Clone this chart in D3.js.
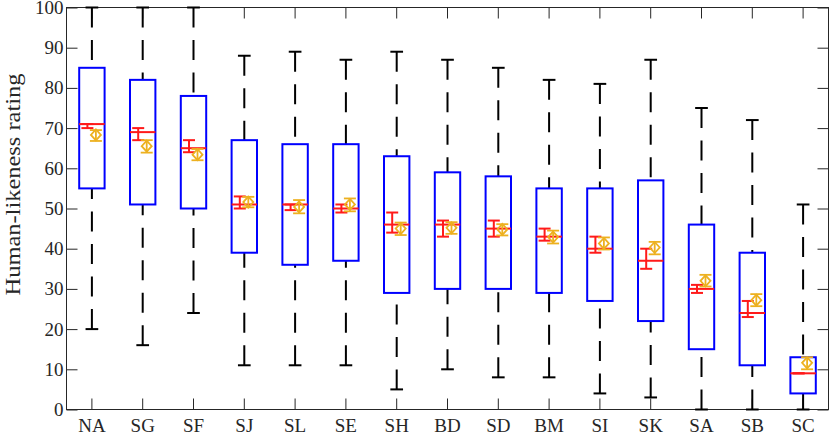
<!DOCTYPE html>
<html>
<head>
<meta charset="utf-8">
<script src="https://cdn.jsdelivr.net/npm/d3@7"></script>
<style>
  html, body { margin: 0; padding: 0; background: #fff; }
  svg { display: block; }
</style>
</head>
<body>
<svg id="chart" width="830" height="435"></svg>
<script>
// ---- data ----
const categories   = ["NA","SG","SF","SJ","SL","SE","SH","BD","SD","BM","SI","SK","SA","SB","SC"];
const whiskerHigh  = [100,100,100,88,89,87,89,87,85,82,81,87,75,72,51];
const q3           = [85,82,78,67,66,66,63,59,58,55,55,57,46,39,13];
const median       = [71,69,65,51,51,50,46,46,45,43,40,37,30,24,9];
const q1           = [55,51,50,39,36,37,29,30,30,29,27,22,15,11,4];
const whiskerLow   = [20,16,24,11,11,11,5,10,8,8,4,3,0,0,0];
const medianCILow  = [70,67,64,50,49.6,49,44,43,43,42,39,35,29,23,9];
const medianCIHigh = [71,70,67,53,51,51,49,47,47,45,43,40,31,27,9];
const meanValue    = [68.3,65.5,63.4,51.6,50.4,51,45,45.2,44.8,42.9,41.3,40.3,32,27.2,11.6];
const meanLow      = [66.8,63.9,62,50.3,48.8,49.3,43.4,43.7,43.3,41.3,39.8,38.6,30.6,25.7,10];
const meanHigh     = [69.5,67,64.8,52.9,52.1,52.5,46.5,46.6,46.1,44.5,42.8,41.7,33.5,28.7,13];
const yTicks       = [0,10,20,30,40,50,60,70,80,90,100];
const yLabel       = "Human-likeness rating";

// ---- layout ----
const margin = {left: 66.5, top: 7.5, right: 1.5, bottom: 25.5};
const W = 830 - margin.left - margin.right;
const H = 435 - margin.top - margin.bottom;
const axisColor = "#262626";
const fontFam = "Liberation Serif, DejaVu Serif, serif";
const blue = "#0000ff", red = "#ff1a1a", orange = "#edb120";

const svg = d3.select("#chart");
const g = svg.append("g").attr("transform", `translate(${margin.left},${margin.top})`);

const x = d3.scaleBand().domain(categories).range([0, W]).paddingInner(0).paddingOuter(0);
const y = d3.scaleLinear().domain([0, 100]).range([H, 0]);
const bw = x.bandwidth();
const cx = c => x(c) + bw / 2;
const boxW = bw * 0.5;
const capW = bw * 0.25;
const barCapW = 12;
const ciOff = -4.5, meanOff = 4;

const rows = categories.map((c, i) => ({
  c, wh: whiskerHigh[i], q3: q3[i], med: median[i], q1: q1[i], wl: whiskerLow[i],
  ciL: medianCILow[i], ciH: medianCIHigh[i], m: meanValue[i], mL: meanLow[i], mH: meanHigh[i]
}));

// ---- axes ----
const fs = 19;
const ax = (sel) => {
  sel.attr("font-family", fontFam).attr("font-size", fs);
  sel.select(".domain").remove();
  sel.selectAll(".tick line").attr("stroke", axisColor).attr("stroke-width", 1);
  sel.selectAll(".tick text").attr("font-size", fs).attr("fill", axisColor).attr("font-family", fontFam);
};
g.append("g").call(d3.axisLeft(y).tickValues(yTicks).tickSize(-11).tickSizeOuter(0).tickPadding(3)).call(ax);
g.append("g").attr("transform", `translate(${W},0)`)
  .call(d3.axisRight(y).tickValues(yTicks).tickSize(-11).tickSizeOuter(0).tickFormat("")).call(ax);
g.append("g").attr("transform", `translate(0,${H})`)
  .call(d3.axisBottom(x).tickSize(-11).tickSizeOuter(0).tickPadding(9)).call(ax);
g.append("g")
  .call(d3.axisTop(x).tickSize(-11).tickSizeOuter(0).tickFormat("")).call(ax);

g.append("rect").attr("x", 0).attr("y", 0).attr("width", W).attr("height", H)
  .attr("fill", "none").attr("stroke", axisColor).attr("stroke-width", 1);

// y label
svg.append("text")
  .attr("transform", `translate(19.5,184.5) rotate(-90)`)
  .attr("text-anchor", "middle")
  .attr("font-family", fontFam)
  .attr("font-size", 21)
  .attr("fill", axisColor)
  .attr("textLength", 222)
  .attr("lengthAdjust", "spacingAndGlyphs")
  .text(yLabel);

// ---- boxes ----
const grp = g.append("g").selectAll("g.box").data(rows).join("g").attr("class", "box");

// whiskers (dash pattern starts at the cap)
grp.append("line")
  .attr("x1", d => cx(d.c)).attr("x2", d => cx(d.c))
  .attr("y1", d => y(d.wh)).attr("y2", d => y(d.q3))
  .attr("stroke", "#000").attr("stroke-width", 2).attr("stroke-dasharray", "20,12.5");
grp.append("line")
  .attr("x1", d => cx(d.c)).attr("x2", d => cx(d.c))
  .attr("y1", d => y(d.wl)).attr("y2", d => y(d.q1))
  .attr("stroke", "#000").attr("stroke-width", 2).attr("stroke-dasharray", "20,12.5");
// whisker caps
["wh", "wl"].forEach(k => {
  grp.append("line")
    .attr("x1", d => cx(d.c) - capW / 2).attr("x2", d => cx(d.c) + capW / 2)
    .attr("y1", d => y(d[k])).attr("y2", d => y(d[k]))
    .attr("stroke", "#000").attr("stroke-width", 2);
});

// box
grp.append("rect")
  .attr("x", d => cx(d.c) - boxW / 2).attr("width", boxW)
  .attr("y", d => y(d.q3)).attr("height", d => y(d.q1) - y(d.q3))
  .attr("fill", "none").attr("stroke", blue).attr("stroke-width", 2);

// median CI (red I-bar)
grp.append("line")
  .attr("x1", d => cx(d.c) + ciOff).attr("x2", d => cx(d.c) + ciOff)
  .attr("y1", d => y(d.ciL)).attr("y2", d => y(d.ciH))
  .attr("stroke", red).attr("stroke-width", 2);
["ciL", "ciH"].forEach(k => {
  grp.append("line")
    .attr("x1", d => cx(d.c) + ciOff - barCapW / 2).attr("x2", d => cx(d.c) + ciOff + barCapW / 2)
    .attr("y1", d => y(d[k])).attr("y2", d => y(d[k]))
    .attr("stroke", red).attr("stroke-width", 2);
});
// median line
grp.append("line")
  .attr("x1", d => cx(d.c) - boxW / 2).attr("x2", d => cx(d.c) + boxW / 2)
  .attr("y1", d => y(d.med)).attr("y2", d => y(d.med))
  .attr("stroke", red).attr("stroke-width", 2);

// mean with error bar (orange diamond)
grp.append("line")
  .attr("x1", d => cx(d.c) + meanOff).attr("x2", d => cx(d.c) + meanOff)
  .attr("y1", d => y(d.mL)).attr("y2", d => y(d.mH))
  .attr("stroke", orange).attr("stroke-width", 1.8);
["mL", "mH"].forEach(k => {
  grp.append("line")
    .attr("x1", d => cx(d.c) + meanOff - barCapW / 2).attr("x2", d => cx(d.c) + meanOff + barCapW / 2)
    .attr("y1", d => y(d[k])).attr("y2", d => y(d[k]))
    .attr("stroke", orange).attr("stroke-width", 1.8);
});
grp.append("path")
  .attr("d", d => {
    const px = cx(d.c) + meanOff, py = y(d.m), rx = 5, ry = 5.5;
    return `M${px},${py - ry}L${px + rx},${py}L${px},${py + ry}L${px - rx},${py}Z`;
  })
  .attr("fill", "none").attr("stroke", orange).attr("stroke-width", 1.8);
</script>
</body>
</html>
